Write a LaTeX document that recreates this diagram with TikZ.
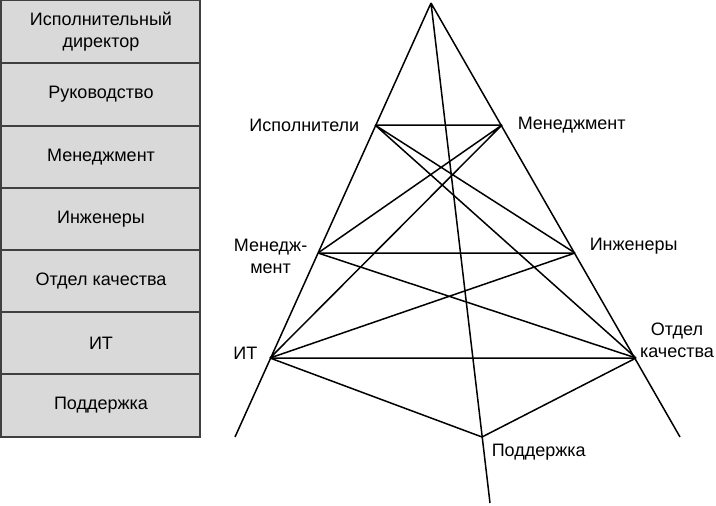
\documentclass[tikz,border=0pt]{standalone}
\usepackage{fontspec}
\setmainfont{Liberation Sans}
\begin{document}
\begin{tikzpicture}[x=1pt,y=-1pt,line width=1.5pt,
  cell/.style={draw=black!75,fill=black!15,line width=1.3pt},
  lbl/.style={font=\fontsize{18}{22}\selectfont,align=center,inner sep=0pt},
  pt/.style={inner sep=0pt,minimum size=0pt}]
\useasboundingbox (0,0) rectangle (716,506);
\foreach \t/\b/\txt [count=\i] in {0/63/{Исполнительный\\директор},63/126/Руководство,126/188/Менеджмент,188/250/Инженеры,250/312/Отдел качества,312/374/ИТ,374/437/Поддержка}{
  \draw[cell] (1,\t) rectangle (200,\b);
  \node[lbl] (b\i) at (101,{(\t+\b)/2}) {\txt};
}
\coordinate (A) at (431,3);
\coordinate (L) at (235,437);
\coordinate (R) at (680,437);
\coordinate (C) at (490,503);
\coordinate (p1) at (375,125);
\coordinate (p2) at (502,125);
\coordinate (p3) at (318,253);
\coordinate (p4) at (575,253);
\coordinate (p5) at (270,358);
\coordinate (p6) at (636,358);
\coordinate (p7) at (482,437);
\draw (A)--(L) (A)--(R) (A)--(C);
\draw (p1)--(p2) (p3)--(p4) (p5)--(p6) (p5)--(p7)--(p6);
\draw (p1)--(p4) (p1)--(p6) (p2)--(p3) (p2)--(p5) (p3)--(p6) (p4)--(p5);
\node[lbl,anchor=east] (t1) at (360,125) {Исполнители};
\node[lbl,anchor=west] (t2) at (517,125) {Менеджмент};
\node[lbl,anchor=east] (t3) at (308,256) {Менедж-\\мент};
\node[lbl,anchor=west] (t4) at (589,246) {Инженеры};
\node[lbl,anchor=east] (t5) at (258,353) {ИТ};
\node[lbl] (t6) at (677,340) {Отдел\\качества};
\node[lbl,anchor=west] (t7) at (491,452) {Поддержка};
\end{tikzpicture}
\end{document}
